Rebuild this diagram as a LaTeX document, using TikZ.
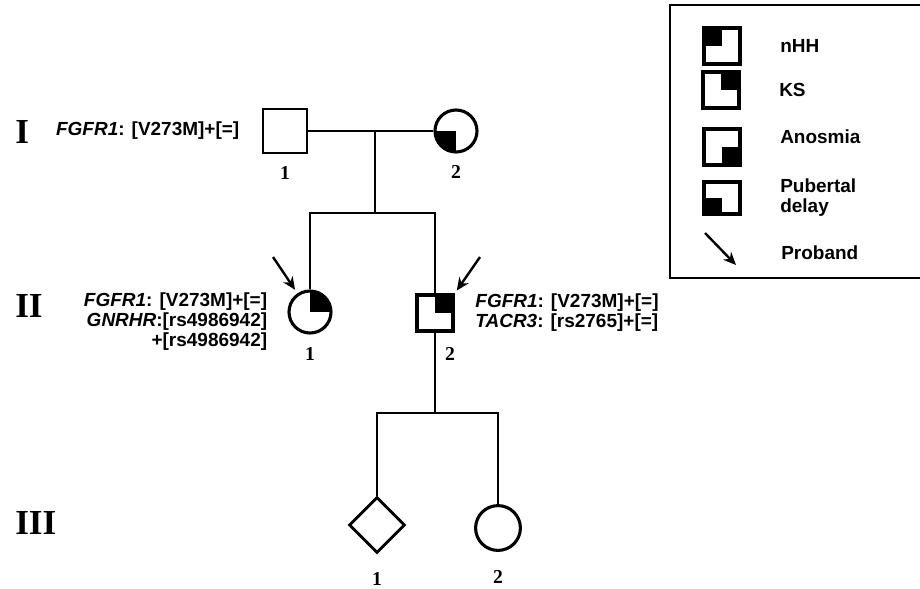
\documentclass[tikz,border=0pt]{standalone}
\usepackage{fontspec}
\setmainfont{Liberation Serif}
\newfontfamily\arial{Liberation Sans}
\usepackage{tikz}
\usetikzlibrary{positioning,arrows.meta,shapes.geometric}
\tikzset{
  varon/.style={rectangle, draw, line width=2pt, minimum size=1.1cm, inner sep=0pt},
  mujer/.style={circle, draw, line width=2.2pt, minimum size=1.05cm, inner sep=0pt},
  rombo/.style={diamond, draw, line width=2pt, minimum size=1.4cm, inner sep=0pt},
  cuarto/.style={path picture={\fill (path picture bounding box.center) rectangle (path picture bounding box.#1);}},
  simb/.style={rectangle, draw, line width=2.8pt, minimum size=0.9cm, inner sep=0pt},
  linea/.style={line width=2pt},
  flecha/.style={-{Stealth[length=3.2mm,width=2.8mm]}, line width=1.7pt},
  gen/.style={font=\arial\bfseries\fontsize{13.5}{14.2}\selectfont, inner sep=0pt},
  etq/.style={font=\arial\bfseries\fontsize{13.5}{14.2}\selectfont, inner sep=0pt, align=left},
  num/.style={font=\bfseries\fontsize{14}{14}\selectfont, inner sep=0pt},
  rom/.style={font=\bfseries\fontsize{25}{25}\selectfont, inner sep=0pt, anchor=west},
}

\begin{document}
\begin{tikzpicture}[x=0.025cm, y=-0.025cm]
  \useasboundingbox (0,0) rectangle (920,588);
  % generaciones
  \node[rom] (gI) at (15,132) {I};
  \node[rom] (gII) at (15,306) {II};
  \node[rom] (gIII) at (15,523) {III};
  % I
  \node[varon] (I1) at (285,131) {};
  \node[mujer, cuarto=south west] (I2) at (456,131) {};
  \coordinate (d1) at (375,131);
  \coordinate (h1) at (375,213);
  \draw[linea] (I1) -- (I2);
  \draw[linea] (d1) -- (h1);
  \node[num, below=0.3cm of I1] {1};
  \node[num, below=0.28cm of I2] {2};
  \node[gen, left=0.55cm of I1] (gI1) {\textit{FGFR1}: [V273M]+[=]};
  % II
  \node[mujer, cuarto=north east] (II1) at (310,312) {};
  \node[varon, cuarto=north east, line width=3pt, minimum size=0.9cm] (II2) at (435,313) {};
  \draw[linea] (II1.north) |- (h1) -| (II2.north);
  \node[num, below=0.31cm of II1] {1};
  \node[num, below=0.35cm of II2, xshift=0.375cm] {2};
  \node[gen, align=right, left=0.5cm of II1, yshift=-0.25cm] (gII1)
    {\textit{FGFR1}: [V273M]+[=]\\\textit{GNRHR}:[rs4986942]\\+[rs4986942]};
  \node[gen, align=left, right=0.5cm of II2] (gII2)
    {\textit{FGFR1}: [V273M]+[=]\\\textit{TACR3}: [rs2765]+[=]};
  \coordinate (p1) at (273,257);
  \coordinate (p2) at (480,257);
  \draw[flecha, shorten >=3pt] (p1) -- (II1);
  \draw[flecha, shorten >=2pt] (p2) -- (II2.north east);
  % III
  \coordinate (h2) at (435,413);
  \node[rombo] (III1) at (377,525) {};
  \node[mujer, minimum size=1.12cm] (III2) at (498,528) {};
  \draw[linea] (II2) -- (h2);
  \draw[linea] (III1.north) |- (h2) -| (III2.north);
  \node[num, below=0.44cm of III1] {1};
  \node[num, below=0.45cm of III2] {2};
  % leyenda
  \draw[line width=1.5pt] (920,5) -- (670,5) -- (670,278) -- (920,278);
  \node[simb, cuarto=north west] (lnhh) at (722,46) {};
  \node[etq, right=0.95cm of lnhh] {nHH};
  \node[simb, cuarto=north east] (lks) at (721,90) {};
  \node[etq, right=0.95cm of lks] {KS};
  \node[simb, cuarto=south east] (lano) at (722,147) {};
  \node[etq, right=0.95cm of lano, yshift=0.25cm] {Anosmia};
  \node[simb, cuarto=south west, minimum height=0.82cm] (lpub) at (722,198) {};
  \node[etq, right=0.95cm of lpub] {Pubertal\\delay};
  \coordinate (lp1) at (705,233);
  \coordinate (lp2) at (736,265);
  \draw[flecha] (lp1) -- (lp2);
  \node[etq, anchor=west] (lpro) at (781,253) {Proband};
\end{tikzpicture}
\end{document}
